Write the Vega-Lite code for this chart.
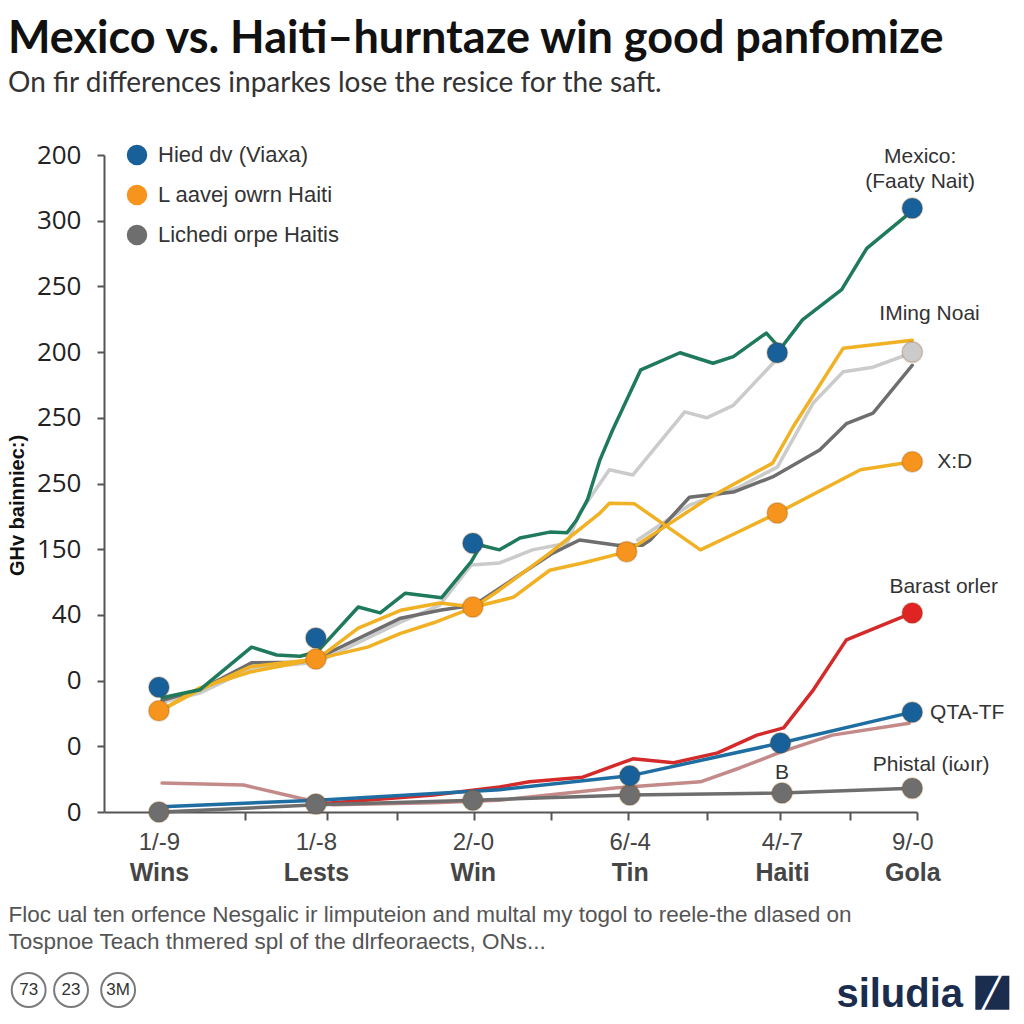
{
  "$schema": "https://vega.github.io/schema/vega-lite/v6.json",
  "width": 813,
  "height": 657,
  "autosize": {"type": "none"},
  "padding": {"left": 104, "top": 155, "right": 107, "bottom": 212},
  "background": "white",
  "config": {"view": {"stroke": null}, "font": "Liberation Sans"},
  "title": {
    "text": "Mexico vs. Haiti\u2013hurntaze win good panfomize",
    "subtitle": "On fir differences inparkes lose the resice for the saft.",
    "anchor": "start",
    "frame": "group",
    "dx": -96,
    "offset": 44,
    "font": "Lato",
    "fontSize": 45,
    "fontWeight": "bold",
    "color": "#111111",
    "subtitleFont": "Lato",
    "subtitleFontSize": 28,
    "subtitleColor": "#333333",
    "subtitlePadding": 8
  },
  "datasets": {
    "lines": [
      {"s": "01 Light A", "x": 0.02, "y": 1.67}, {"s": "01 Light A", "x": 0.26, "y": 1.81}, {"s": "01 Light A", "x": 0.59, "y": 2.19}, {"s": "01 Light A", "x": 1.01, "y": 2.28}, {"s": "01 Light A", "x": 1.54, "y": 2.89}, {"s": "01 Light A", "x": 1.79, "y": 3.15}, {"s": "01 Light A", "x": 1.99, "y": 3.76}, {"s": "01 Light A", "x": 2.17, "y": 3.79}, {"s": "01 Light A", "x": 2.38, "y": 3.99}, {"s": "01 Light A", "x": 2.6, "y": 4.09}, {"s": "01 Light A", "x": 2.68, "y": 4.55}, {"s": "01 Light A", "x": 2.87, "y": 5.21}, {"s": "01 Light A", "x": 3.02, "y": 5.13}, {"s": "01 Light A", "x": 3.35, "y": 6.09}, {"s": "01 Light A", "x": 3.49, "y": 6.0}, {"s": "01 Light A", "x": 3.66, "y": 6.19}, {"s": "01 Light A", "x": 3.92, "y": 6.85},
      {"s": "02 Light B", "x": 3.05, "y": 4.14}, {"s": "02 Light B", "x": 3.38, "y": 4.67}, {"s": "02 Light B", "x": 3.7, "y": 4.95}, {"s": "02 Light B", "x": 3.94, "y": 5.25}, {"s": "02 Light B", "x": 4.17, "y": 6.23}, {"s": "02 Light B", "x": 4.36, "y": 6.7}, {"s": "02 Light B", "x": 4.55, "y": 6.77}, {"s": "02 Light B", "x": 4.8, "y": 6.99},
      {"s": "03 Gray", "x": 0.02, "y": 1.7}, {"s": "03 Gray", "x": 0.26, "y": 1.86}, {"s": "03 Gray", "x": 0.59, "y": 2.27}, {"s": "03 Gray", "x": 0.9, "y": 2.28}, {"s": "03 Gray", "x": 1.01, "y": 2.34}, {"s": "03 Gray", "x": 1.54, "y": 2.95}, {"s": "03 Gray", "x": 1.79, "y": 3.07}, {"s": "03 Gray", "x": 2.01, "y": 3.15}, {"s": "03 Gray", "x": 2.28, "y": 3.58}, {"s": "03 Gray", "x": 2.51, "y": 3.94}, {"s": "03 Gray", "x": 2.68, "y": 4.14}, {"s": "03 Gray", "x": 2.92, "y": 4.06}, {"s": "03 Gray", "x": 3.08, "y": 4.06}, {"s": "03 Gray", "x": 3.13, "y": 4.14}, {"s": "03 Gray", "x": 3.38, "y": 4.79}, {"s": "03 Gray", "x": 3.66, "y": 4.87}, {"s": "03 Gray", "x": 3.91, "y": 5.1}, {"s": "03 Gray", "x": 4.21, "y": 5.51}, {"s": "03 Gray", "x": 4.38, "y": 5.91}, {"s": "03 Gray", "x": 4.55, "y": 6.07}, {"s": "03 Gray", "x": 4.8, "y": 6.8},
      {"s": "04 Yellow A", "x": 0.01, "y": 1.54}, {"s": "04 Yellow A", "x": 0.26, "y": 1.86}, {"s": "04 Yellow A", "x": 0.58, "y": 2.21}, {"s": "04 Yellow A", "x": 1.01, "y": 2.33}, {"s": "04 Yellow A", "x": 1.27, "y": 2.8}, {"s": "04 Yellow A", "x": 1.54, "y": 3.07}, {"s": "04 Yellow A", "x": 1.79, "y": 3.18}, {"s": "04 Yellow A", "x": 2.01, "y": 3.12}, {"s": "04 Yellow A", "x": 2.17, "y": 3.38}, {"s": "04 Yellow A", "x": 2.49, "y": 3.94}, {"s": "04 Yellow A", "x": 2.81, "y": 4.55}, {"s": "04 Yellow A", "x": 2.87, "y": 4.7}, {"s": "04 Yellow A", "x": 3.03, "y": 4.69}, {"s": "04 Yellow A", "x": 3.45, "y": 3.99}, {"s": "04 Yellow A", "x": 3.68, "y": 4.25}, {"s": "04 Yellow A", "x": 3.94, "y": 4.55}, {"s": "04 Yellow A", "x": 4.47, "y": 5.21}, {"s": "04 Yellow A", "x": 4.8, "y": 5.33},
      {"s": "05 Yellow B", "x": 0.01, "y": 1.54}, {"s": "05 Yellow B", "x": 0.26, "y": 1.89}, {"s": "05 Yellow B", "x": 0.58, "y": 2.13}, {"s": "05 Yellow B", "x": 1.01, "y": 2.33}, {"s": "05 Yellow B", "x": 1.33, "y": 2.51}, {"s": "05 Yellow B", "x": 1.54, "y": 2.72}, {"s": "05 Yellow B", "x": 1.75, "y": 2.88}, {"s": "05 Yellow B", "x": 2.01, "y": 3.12}, {"s": "05 Yellow B", "x": 2.26, "y": 3.27}, {"s": "05 Yellow B", "x": 2.49, "y": 3.68}, {"s": "05 Yellow B", "x": 2.7, "y": 3.79}, {"s": "05 Yellow B", "x": 2.98, "y": 3.96}, {"s": "05 Yellow B", "x": 3.19, "y": 4.29}, {"s": "05 Yellow B", "x": 3.51, "y": 4.79}, {"s": "05 Yellow B", "x": 3.91, "y": 5.31}, {"s": "05 Yellow B", "x": 4.04, "y": 5.86}, {"s": "05 Yellow B", "x": 4.36, "y": 7.06}, {"s": "05 Yellow B", "x": 4.8, "y": 7.18},
      {"s": "06 Mexico", "x": 0.02, "y": 1.74}, {"s": "06 Mexico", "x": 0.26, "y": 1.86}, {"s": "06 Mexico", "x": 0.59, "y": 2.51}, {"s": "06 Mexico", "x": 0.75, "y": 2.39}, {"s": "06 Mexico", "x": 0.9, "y": 2.37}, {"s": "06 Mexico", "x": 1.01, "y": 2.44}, {"s": "06 Mexico", "x": 1.27, "y": 3.12}, {"s": "06 Mexico", "x": 1.41, "y": 3.03}, {"s": "06 Mexico", "x": 1.57, "y": 3.33}, {"s": "06 Mexico", "x": 1.8, "y": 3.26}, {"s": "06 Mexico", "x": 1.99, "y": 3.81}, {"s": "06 Mexico", "x": 2.05, "y": 4.06}, {"s": "06 Mexico", "x": 2.17, "y": 3.99}, {"s": "06 Mexico", "x": 2.3, "y": 4.17}, {"s": "06 Mexico", "x": 2.49, "y": 4.26}, {"s": "06 Mexico", "x": 2.6, "y": 4.25}, {"s": "06 Mexico", "x": 2.66, "y": 4.44}, {"s": "06 Mexico", "x": 2.73, "y": 4.75}, {"s": "06 Mexico", "x": 2.81, "y": 5.36}, {"s": "06 Mexico", "x": 2.89, "y": 5.81}, {"s": "06 Mexico", "x": 3.07, "y": 6.73}, {"s": "06 Mexico", "x": 3.32, "y": 6.99}, {"s": "06 Mexico", "x": 3.53, "y": 6.83}, {"s": "06 Mexico", "x": 3.66, "y": 6.93}, {"s": "06 Mexico", "x": 3.87, "y": 7.29}, {"s": "06 Mexico", "x": 3.96, "y": 7.05}, {"s": "06 Mexico", "x": 4.1, "y": 7.49}, {"s": "06 Mexico", "x": 4.35, "y": 7.95}, {"s": "06 Mexico", "x": 4.51, "y": 8.58}, {"s": "06 Mexico", "x": 4.79, "y": 9.13},
      {"s": "07 Pink", "x": 0.02, "y": 0.44}, {"s": "07 Pink", "x": 0.54, "y": 0.41}, {"s": "07 Pink", "x": 0.9, "y": 0.21}, {"s": "07 Pink", "x": 1.11, "y": 0.11}, {"s": "07 Pink", "x": 1.75, "y": 0.14}, {"s": "07 Pink", "x": 2.17, "y": 0.18}, {"s": "07 Pink", "x": 2.92, "y": 0.37}, {"s": "07 Pink", "x": 3.45, "y": 0.46}, {"s": "07 Pink", "x": 3.7, "y": 0.67}, {"s": "07 Pink", "x": 3.96, "y": 0.91}, {"s": "07 Pink", "x": 4.29, "y": 1.17}, {"s": "07 Pink", "x": 4.78, "y": 1.35},
      {"s": "08 Red", "x": 1.01, "y": 0.12}, {"s": "08 Red", "x": 1.75, "y": 0.26}, {"s": "08 Red", "x": 2.17, "y": 0.38}, {"s": "08 Red", "x": 2.36, "y": 0.46}, {"s": "08 Red", "x": 2.7, "y": 0.53}, {"s": "08 Red", "x": 3.02, "y": 0.81}, {"s": "08 Red", "x": 3.28, "y": 0.75}, {"s": "08 Red", "x": 3.56, "y": 0.9}, {"s": "08 Red", "x": 3.81, "y": 1.17}, {"s": "08 Red", "x": 3.98, "y": 1.28}, {"s": "08 Red", "x": 4.17, "y": 1.86}, {"s": "08 Red", "x": 4.38, "y": 2.62}, {"s": "08 Red", "x": 4.8, "y": 3.03},
      {"s": "09 Blue", "x": 0.02, "y": 0.08}, {"s": "09 Blue", "x": 1.01, "y": 0.18}, {"s": "09 Blue", "x": 2.17, "y": 0.34}, {"s": "09 Blue", "x": 3.0, "y": 0.55}, {"s": "09 Blue", "x": 3.96, "y": 1.05}, {"s": "09 Blue", "x": 4.8, "y": 1.52},
      {"s": "10 Dark gray", "x": 0.02, "y": 0.0}, {"s": "10 Dark gray", "x": 1.01, "y": 0.11}, {"s": "10 Dark gray", "x": 2.01, "y": 0.18}, {"s": "10 Dark gray", "x": 3.0, "y": 0.26}, {"s": "10 Dark gray", "x": 3.97, "y": 0.29}, {"s": "10 Dark gray", "x": 4.8, "y": 0.36}
    ],
    "dots": [
      {"s": "Lichedi orpe Haitis", "x": 0, "y": 0.0}, {"s": "Lichedi orpe Haitis", "x": 1, "y": 0.12}, {"s": "Lichedi orpe Haitis", "x": 2, "y": 0.18}, {"s": "Lichedi orpe Haitis", "x": 3, "y": 0.26}, {"s": "Lichedi orpe Haitis", "x": 3.97, "y": 0.29}, {"s": "Lichedi orpe Haitis", "x": 4.8, "y": 0.36},
      {"s": "Hied dv (Viaxa)", "x": 0, "y": 1.9}, {"s": "Hied dv (Viaxa)", "x": 1, "y": 2.65}, {"s": "Hied dv (Viaxa)", "x": 2, "y": 4.09}, {"s": "Hied dv (Viaxa)", "x": 3.94, "y": 6.99}, {"s": "Hied dv (Viaxa)", "x": 4.8, "y": 9.19}, {"s": "Hied dv (Viaxa)", "x": 3.0, "y": 0.55}, {"s": "Hied dv (Viaxa)", "x": 3.96, "y": 1.05}, {"s": "Hied dv (Viaxa)", "x": 4.8, "y": 1.52},
      {"s": "L aavej owrn Haiti", "x": 0, "y": 1.54}, {"s": "L aavej owrn Haiti", "x": 1, "y": 2.33}, {"s": "L aavej owrn Haiti", "x": 2, "y": 3.12}, {"s": "L aavej owrn Haiti", "x": 2.98, "y": 3.96}, {"s": "L aavej owrn Haiti", "x": 3.94, "y": 4.55}, {"s": "L aavej owrn Haiti", "x": 4.8, "y": 5.33},
      {"s": "Light dot", "x": 4.8, "y": 7.0},
      {"s": "Red dot", "x": 4.8, "y": 3.03}
    ],
    "notes": [
      {"x": 4.85, "y": 9.97, "t": "Mexico:"},
      {"x": 4.85, "y": 9.59, "t": "(Faaty Nait)"},
      {"x": 4.91, "y": 7.58, "t": "IMing Noai"},
      {"x": 5.07, "y": 5.33, "t": "X:D"},
      {"x": 5.0, "y": 3.42, "t": "Barast orler"},
      {"x": 5.15, "y": 1.51, "t": "QTA-TF"},
      {"x": 3.97, "y": 0.59, "t": "B"},
      {"x": 4.92, "y": 0.72, "t": "Phistal (i\u03c9\u0131r)"}
    ],
    "badges": [
      {"x": -0.83, "y": -2.71, "t": "73"},
      {"x": -0.56, "y": -2.71, "t": "23"},
      {"x": -0.26, "y": -2.71, "t": "3M"}
    ],
    "brand": [{"x": 4.72, "y": -2.79, "t": "siludia"}],
    "logo": [{"x": 5.31, "y": -2.75, "t": "\u2571"}]
  },
  "layer": [
    {
      "data": {"name": "lines"},
      "mark": {"type": "line", "strokeCap": "round", "strokeJoin": "round"},
      "encoding": {
        "x": {"field": "x", "type": "quantitative", "scale": {"domain": [-0.35, 4.83], "nice": false, "zero": false},
          "axis": {"orient": "bottom", "values": [0, 1, 2, 3, 3.97, 4.8], "labelExpr": "datum.value < 0.5 ? '1/-9' : datum.value < 1.5 ? '1/-8' : datum.value < 2.5 ? '2/-0' : datum.value < 3.5 ? '6/-4' : datum.value < 4.4 ? '4/-7' : '9/-0'", "ticks": false, "tickSize": 8, "labelPadding": 18, "labelFontSize": 24, "labelColor": "#444444", "labelFont": "Liberation Sans", "labelOverlap": false, "labelFlush": false, "labelBound": false, "domain": true, "domainColor": "#555555", "domainWidth": 2, "grid": false, "title": null}},
        "y": {"field": "y", "type": "quantitative", "scale": {"domain": [0, 10], "nice": false, "zero": false},
          "axis": {"values": [0, 1, 2, 3, 4, 5, 6, 7, 8, 9, 10], "labelExpr": "['0','0','0','40','150','250','250','200','250','300','200'][datum.value]", "labelFontSize": 26, "labelFont": "Open Sans", "labelColor": "#222222", "labelPadding": 16, "tickSize": 7, "tickWidth": 2, "tickColor": "#555555", "domainColor": "#555555", "domainWidth": 2, "grid": false, "labelOverlap": false, "labelFlush": false, "labelBound": false,
            "title": "GHv bainniec:)", "titleFontSize": 20, "titleFontWeight": "bold", "titleColor": "#111111", "titleX": -87, "titleY": 350, "titleAngle": -90, "titleAlign": "center", "titleBaseline": "middle"}},
        "color": {"field": "s", "type": "nominal", "legend": null,
          "scale": {"domain": ["01 Light A", "02 Light B", "03 Gray", "04 Yellow A", "05 Yellow B", "06 Mexico", "07 Pink", "08 Red", "09 Blue", "10 Dark gray", "Hied dv (Viaxa)", "L aavej owrn Haiti", "Lichedi orpe Haitis", "Light dot", "Red dot"],
            "range": ["#cbcbcb", "#cbcbcb", "#6e6e6e", "#f0b125", "#f0b125", "#1e7a5b", "#c48a8a", "#d42a2a", "#1f6ea2", "#6e6e6e", "#17609a", "#f7941d", "#6e6e6e", "#cbcbcb", "#e02424"]}},
        "strokeWidth": {"field": "s", "type": "ordinal", "legend": null,
          "scale": {"domain": ["01 Light A", "02 Light B", "03 Gray", "04 Yellow A", "05 Yellow B", "06 Mexico", "07 Pink", "08 Red", "09 Blue", "10 Dark gray"], "range": [3.5, 3.5, 3.2, 3.5, 3.5, 3.2, 3.5, 3.2, 5.5, 5]}}
      }
    },
    {
      "data": {"name": "dots"},
      "mark": {"type": "point", "filled": true, "size": 420, "opacity": 1, "stroke": "#7a4a10", "strokeOpacity": 0.25, "strokeWidth": 1.5},
      "encoding": {
        "x": {"field": "x", "type": "quantitative", "scale": {"domain": [-0.35, 4.83], "nice": false, "zero": false},
          "axis": {"orient": "bottom", "values": [0, 1, 2, 3, 3.97, 4.8], "labelExpr": "datum.value < 0.5 ? 'Wins' : datum.value < 1.5 ? 'Lests' : datum.value < 2.5 ? 'Win' : datum.value < 3.5 ? 'Tin' : datum.value < 4.4 ? 'Haiti' : 'Gola'", "ticks": false, "tickSize": 0, "domain": false, "labelPadding": 48, "labelFontSize": 25, "labelFontWeight": "bold", "labelColor": "#454545", "labelFont": "Liberation Sans", "labelOverlap": false, "labelFlush": false, "labelBound": false, "grid": false,
            "title": ["Floc ual ten orfence Nesgalic ir limputeion and multal my togol to reele-the dlased on", "Tospnoe Teach thmered spl of the dlrfeoraects, ONs..."],
            "titleFont": "Liberation Sans", "titleFontSize": 22.5, "titleFontWeight": "normal", "titleColor": "#555555", "titleAnchor": "start", "titleAlign": "left", "titleBaseline": "top", "titleX": -96, "titleY": 91, "titleLineHeight": 27}},
        "y": {"field": "y", "type": "quantitative", "scale": {"domain": [0, 10], "nice": false, "zero": false}},
        "color": {"field": "s", "type": "nominal",
          "scale": {"domain": ["01 Light A", "02 Light B", "03 Gray", "04 Yellow A", "05 Yellow B", "06 Mexico", "07 Pink", "08 Red", "09 Blue", "10 Dark gray", "Hied dv (Viaxa)", "L aavej owrn Haiti", "Lichedi orpe Haitis", "Light dot", "Red dot"],
            "range": ["#cbcbcb", "#cbcbcb", "#6e6e6e", "#f0b125", "#f0b125", "#1e7a5b", "#c48a8a", "#d42a2a", "#1f6ea2", "#6e6e6e", "#17609a", "#f7941d", "#6e6e6e", "#cbcbcb", "#e02424"]},
          "legend": {"values": ["Hied dv (Viaxa)", "L aavej owrn Haiti", "Lichedi orpe Haitis"], "orient": "none", "legendX": 22, "legendY": -11, "title": null, "symbolType": "circle", "symbolSize": 420, "symbolStrokeWidth": 0, "labelFontSize": 22, "labelColor": "#333333", "labelFont": "Liberation Sans", "labelLimit": 400, "rowPadding": 18, "labelOffset": 10, "padding": 0}}
      }
    },
    {
      "data": {"name": "notes"},
      "mark": {"type": "text", "fontSize": 21, "color": "#333333", "font": "Liberation Sans", "baseline": "middle", "align": "center"},
      "encoding": {
        "x": {"field": "x", "type": "quantitative", "scale": {"domain": [-0.35, 4.83], "nice": false, "zero": false},
          "axis": {"orient": "bottom", "values": [0.55, 1.07, 1.52, 2.01, 2.5, 2.99, 3.49, 3.96, 4.4, 4.83], "labels": false, "domain": false, "ticks": true, "tickSize": 8, "tickWidth": 2, "tickColor": "#555555", "grid": false, "title": null}},
        "y": {"field": "y", "type": "quantitative", "scale": {"domain": [0, 10], "nice": false, "zero": false}},
        "text": {"field": "t"}
      }
    },
    {
      "data": {"name": "badges"},
      "mark": {"type": "point", "shape": "circle", "filled": false, "size": 1150, "stroke": "#444444", "strokeWidth": 2},
      "encoding": {
        "x": {"field": "x", "type": "quantitative", "scale": {"domain": [-0.35, 4.83], "nice": false, "zero": false}, "axis": null},
        "y": {"field": "y", "type": "quantitative", "scale": {"domain": [0, 10], "nice": false, "zero": false}}
      }
    },
    {
      "data": {"name": "badges"},
      "mark": {"type": "text", "fontSize": 17, "color": "#333333", "font": "Liberation Sans", "baseline": "middle", "align": "center"},
      "encoding": {
        "x": {"field": "x", "type": "quantitative", "scale": {"domain": [-0.35, 4.83], "nice": false, "zero": false}, "axis": null},
        "y": {"field": "y", "type": "quantitative", "scale": {"domain": [0, 10], "nice": false, "zero": false}},
        "text": {"field": "t"}
      }
    },
    {
      "data": {"name": "brand"},
      "mark": {"type": "text", "fontSize": 40, "fontWeight": "bold", "color": "#1b2d4f", "font": "Liberation Sans", "baseline": "middle", "align": "center"},
      "encoding": {
        "x": {"field": "x", "type": "quantitative", "scale": {"domain": [-0.35, 4.83], "nice": false, "zero": false}, "axis": null},
        "y": {"field": "y", "type": "quantitative", "scale": {"domain": [0, 10], "nice": false, "zero": false}},
        "text": {"field": "t"}
      }
    },
    {
      "data": {"name": "logo"},
      "mark": {"type": "point", "shape": "square", "filled": true, "size": 1156, "color": "#1b2d4f", "opacity": 1},
      "encoding": {
        "x": {"field": "x", "type": "quantitative", "scale": {"domain": [-0.35, 4.83], "nice": false, "zero": false}, "axis": null},
        "y": {"field": "y", "type": "quantitative", "scale": {"domain": [0, 10], "nice": false, "zero": false}}
      }
    },
    {
      "data": {"name": "logo"},
      "mark": {"type": "text", "fontSize": 34, "color": "#ffffff", "font": "DejaVu Sans", "baseline": "middle", "align": "center"},
      "encoding": {
        "x": {"field": "x", "type": "quantitative", "scale": {"domain": [-0.35, 4.83], "nice": false, "zero": false}, "axis": null},
        "y": {"field": "y", "type": "quantitative", "scale": {"domain": [0, 10], "nice": false, "zero": false}},
        "text": {"field": "t"}
      }
    }
  ],
  "resolve": {"axis": {"x": "independent"}, "legend": {"color": "independent"}}
}
